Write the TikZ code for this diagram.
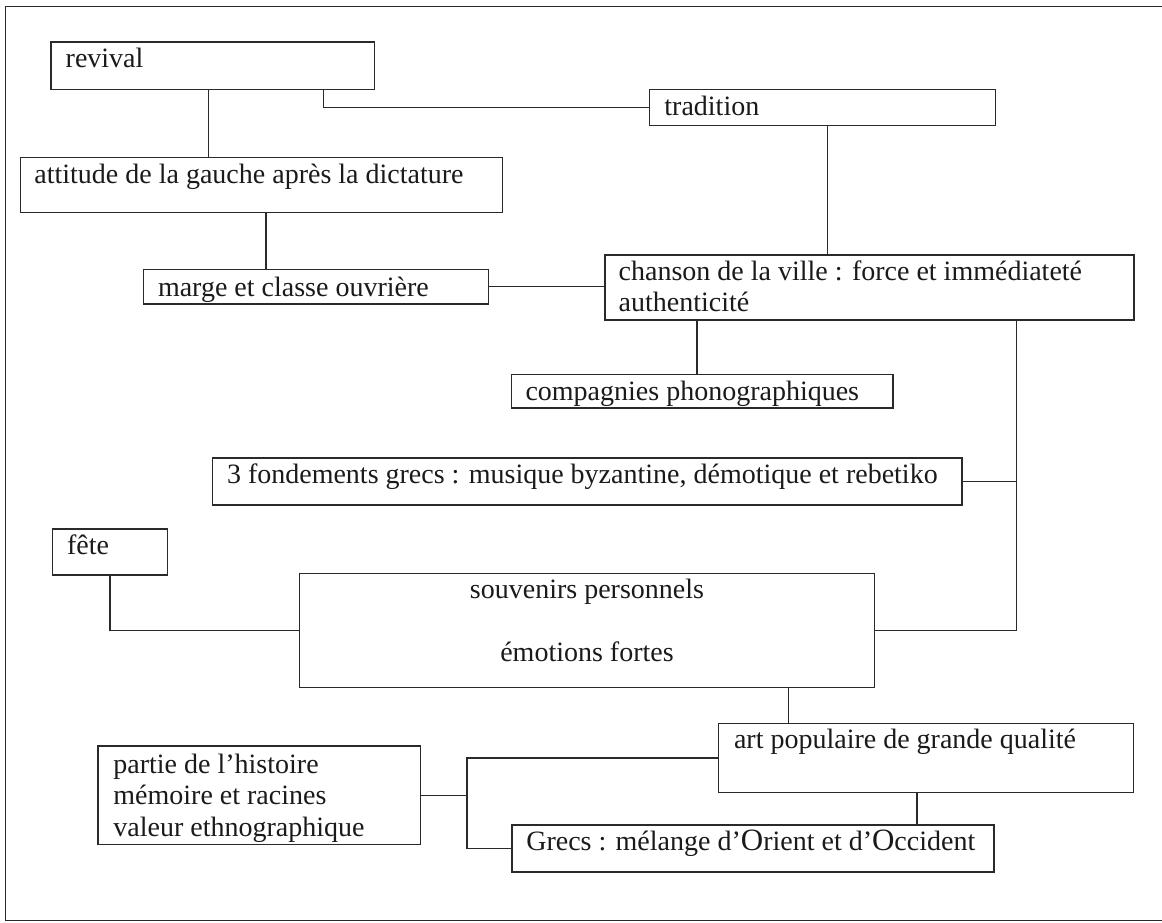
\documentclass[tikz,border=0pt]{standalone}
\usepackage{fontspec}
\setmainfont{Liberation Serif}
\definecolor{linec}{HTML}{2A2A2A}
\definecolor{txtc}{HTML}{1A1A1A}
\newcommand\bx[5]{\node[box, minimum width={#4-#2}, minimum height={#5-#3}] (#1) at ({(#2+#4)/2},{(#3+#5)/2}) {};}
\begin{document}
\begin{tikzpicture}[x=1pt,y=-1pt,
  box/.style={draw=linec, line width=1.5pt, rectangle, inner sep=0pt, outer sep=0pt},
  lbl/.style={anchor=base west, inner sep=0pt, outer sep=0pt, text=txtc, font=\fontsize{28}{31.6}\selectfont},
  conn/.style={draw=linec, line width=1.4pt},
  frame/.style={draw=linec, line width=1.3pt}]
\useasboundingbox (0,0) rectangle (1162,922);
% frame (right edge lies outside the sheet)
\draw[frame] (1162,6.7) -- (5.5,6.7) -- (5.5,920.5) -- (1162,920.5);
% boxes
\bx{revival}{51}{42}{374.3}{89.3}
\bx{attitude}{20.5}{157.5}{502.5}{212.7}
\bx{marge}{143.5}{269.3}{488.7}{304}
\bx{tradition}{649.4}{89.3}{995.5}{125.3}
\bx{chanson}{605}{255}{1134}{320}
\bx{compagnies}{511.3}{374.3}{893.2}{408}
\bx{fond}{212.4}{458}{962.2}{505.2}
\bx{fete}{52.4}{529}{167.6}{575}
\bx{souvenirs}{299.4}{573.3}{874.5}{687.5}
\bx{art}{718.6}{723.3}{1133.5}{792.5}
\bx{grecs}{512.2}{825.2}{994.2}{871.8}
\bx{partie}{98.2}{746.2}{420.3}{844.5}
% texts (multi-line nodes are placed by the baseline of their last line)
\node[lbl] (t-revival) at (65.7,67) {revival};
\node[lbl] (t-attitude) at (34.4,183.3) {attitude de la gauche après la dictature};
\node[lbl] (t-marge) at (158,296.5) {marge et classe ouvrière};
\node[lbl] (t-tradition) at (664.4,115) {tradition};
\node[lbl, align=left] (t-chanson) at (618.7,311.7) {chanson de la ville : force et immédiateté\\authenticité};
\node[lbl] (t-compagnies) at (525.5,400) {compagnies phonographiques};
\node[lbl] (t-fond) at (227,483.3) {3 fondements grecs : musique byzantine, démotique et rebetiko};
\node[lbl] (t-fete) at (67,554) {fête};
\node[lbl, anchor=base, align=center] (t-souvenirs) at (587,661.7) {souvenirs personnels\\[31.6pt]émotions fortes};
\node[lbl] (t-art) at (734,748.3) {art populaire de grande qualité};
\node[lbl] (t-grecs) at (526.3,850.7) {Grecs : mélange d’{\fontsize{31}{31}\selectfont O}rient et d’{\fontsize{31}{31}\selectfont O}ccident};
\node[lbl, align=left] (t-partie) at (113.4,836.5) {partie de l’histoire\\mémoire et racines\\valeur ethnographique};
% connector guide positions
\coordinate (xA) at (208.6,0);
\coordinate (xB) at (323.5,0);
\coordinate (xC) at (266,0);
\coordinate (xE) at (827.6,0);
\coordinate (xF) at (697,0);
\coordinate (xG) at (1016.5,0);
\coordinate (xI) at (788.5,0);
\coordinate (xJ) at (917,0);
\coordinate (xK) at (467,0);
% connectors
\draw[conn] (xA |- revival.south) -- (xA |- attitude.north);
\draw[conn] (xB |- revival.south) |- (tradition.west);
\draw[conn] (xC |- attitude.south) -- (xC |- marge.north);
\draw[conn] (marge.east) -- (marge.east -| chanson.west);
\draw[conn] (xE |- tradition.south) -- (xE |- chanson.north);
\draw[conn] (xF |- chanson.south) -- (xF |- compagnies.north);
\draw[conn] (xG |- chanson.south) |- (souvenirs.east);
\draw[conn] (fond.east) -- (xG |- fond.east);
\draw[conn] (fete.south) |- (souvenirs.west);
\draw[conn] (xI |- souvenirs.south) -- (xI |- art.north);
\draw[conn] (xJ |- art.south) -- (xJ |- grecs.north);
\draw[conn] (partie.east) -- (xK |- partie.east);
\draw[conn] (art.west) -| (xK |- grecs.west) -- (grecs.west);
\end{tikzpicture}
\end{document}
